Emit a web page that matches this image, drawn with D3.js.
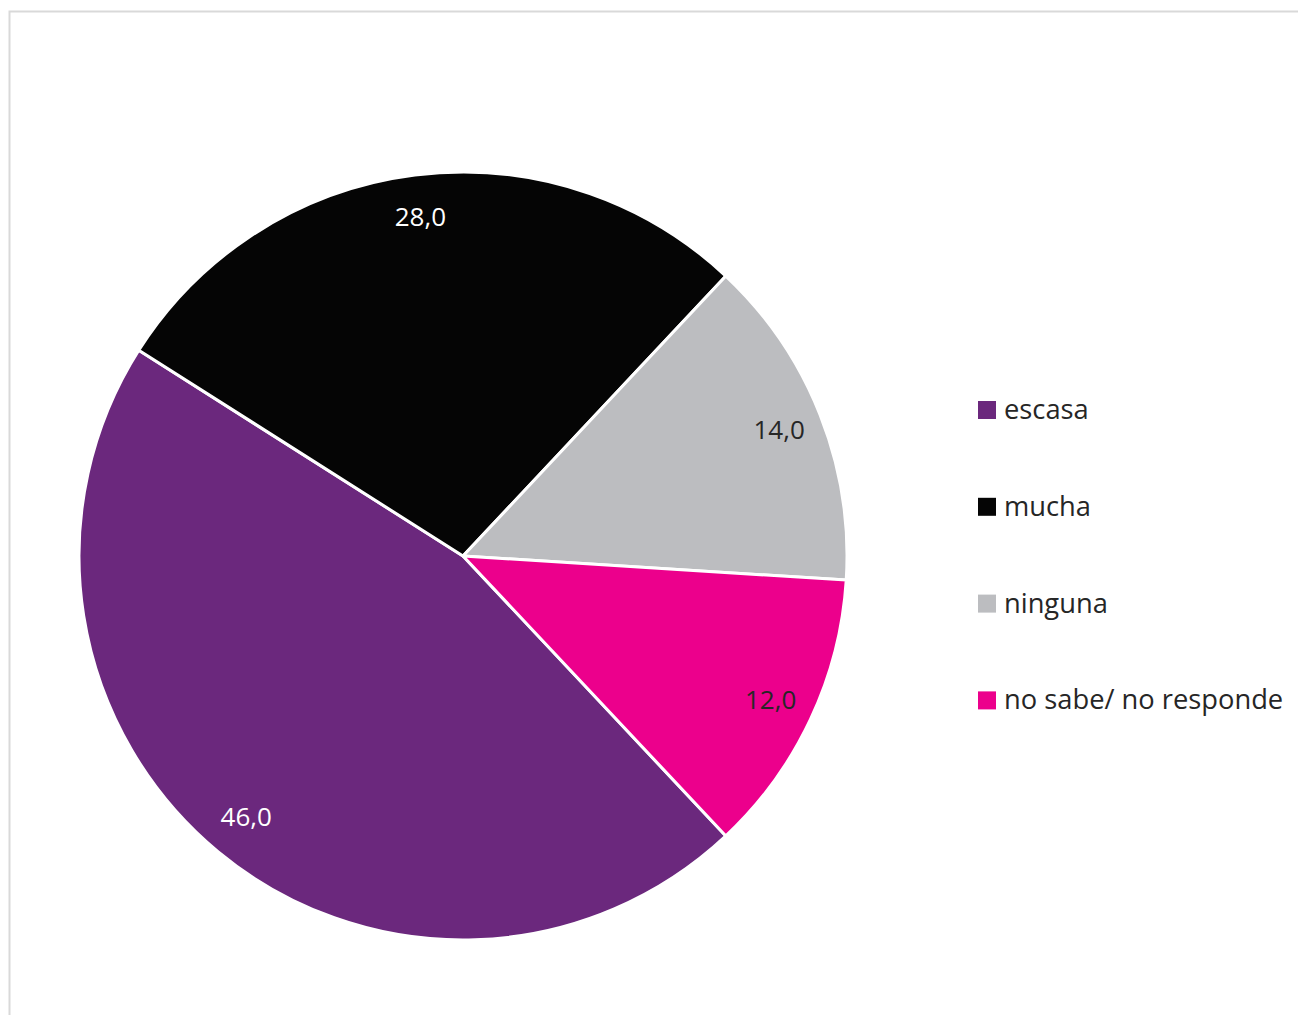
<!DOCTYPE html>
<meta charset="utf-8">
<script src="https://d3js.org/d3.v7.min.js"></script>
<style>
  body { margin: 0; background: #fff; }
  text { font-family: "Open Sans", sans-serif; }
</style>
<div id="my_dataviz"></div>
<script>

// chart data
var categories = ["escasa", "mucha", "ninguna", "no sabe/ no responde"]
var values = [46.0, 28.0, 14.0, 12.0]
var labels = ["46,0", "28,0", "14,0", "12,0"]
var colors = ["#6B287D", "#050505", "#BCBDC0", "#EC008C"]
var labelColors = ["#ffffff", "#ffffff", "#262626", "#262626"]

var width = 1298,
    height = 1015

var cx = 463, cy = 556
var radius = 384

var svg = d3.select("#my_dataviz")
  .append("svg")
    .attr("width", width)
    .attr("height", height)

// light chart frame (cut off on the right and bottom)
svg.append("rect")
    .attr("x", 9.5).attr("y", 11.5)
    .attr("width", 1400).attr("height", 1100)
    .attr("fill", "none")
    .attr("stroke", "#d9d9d9")
    .attr("stroke-width", 2)

var g = svg.append("g")
    .attr("transform", "translate(" + cx + "," + cy + ")")

// first slice starts at about 137 degrees (Excel "angle of first slice")
var start = 136.8 * Math.PI / 180

var pie = d3.pie()
  .sort(null)
  .value(function(d) { return d; })
  .startAngle(start)
  .endAngle(start + 2 * Math.PI)

var data_ready = pie(values)

var arcGenerator = d3.arc()
  .innerRadius(0)
  .outerRadius(radius)

var labelArc = d3.arc()
  .innerRadius(340)
  .outerRadius(340)

g.selectAll("slices")
  .data(data_ready)
  .enter()
  .append("path")
    .attr("d", arcGenerator)
    .attr("fill", function(d, i) { return colors[i] })
    .attr("stroke", "#ffffff")
    .style("stroke-width", "3px")
    .style("stroke-linejoin", "round")

g.selectAll("labels")
  .data(data_ready)
  .enter()
  .append("text")
    .text(function(d, i) { return labels[i] })
    .attr("transform", function(d) { return "translate(" + labelArc.centroid(d) + ")" })
    .attr("dy", "0.3em")
    .style("text-anchor", "middle")
    .style("font-size", "26px")
    .attr("fill", function(d, i) { return labelColors[i] })

// legend
var legend = svg.selectAll("legend")
  .data(categories)
  .enter()
  .append("g")
    .attr("transform", function(d, i) { return "translate(978," + (410 + i * 96.8) + ")" })

legend.append("rect")
    .attr("x", 0).attr("y", -9)
    .attr("width", 18).attr("height", 18)
    .attr("fill", function(d, i) { return colors[i] })

legend.append("text")
    .attr("x", 26)
    .attr("dy", "0.33em")
    .text(function(d) { return d })
    .style("font-size", "27.3px")
    .attr("fill", "#262626")

</script>
